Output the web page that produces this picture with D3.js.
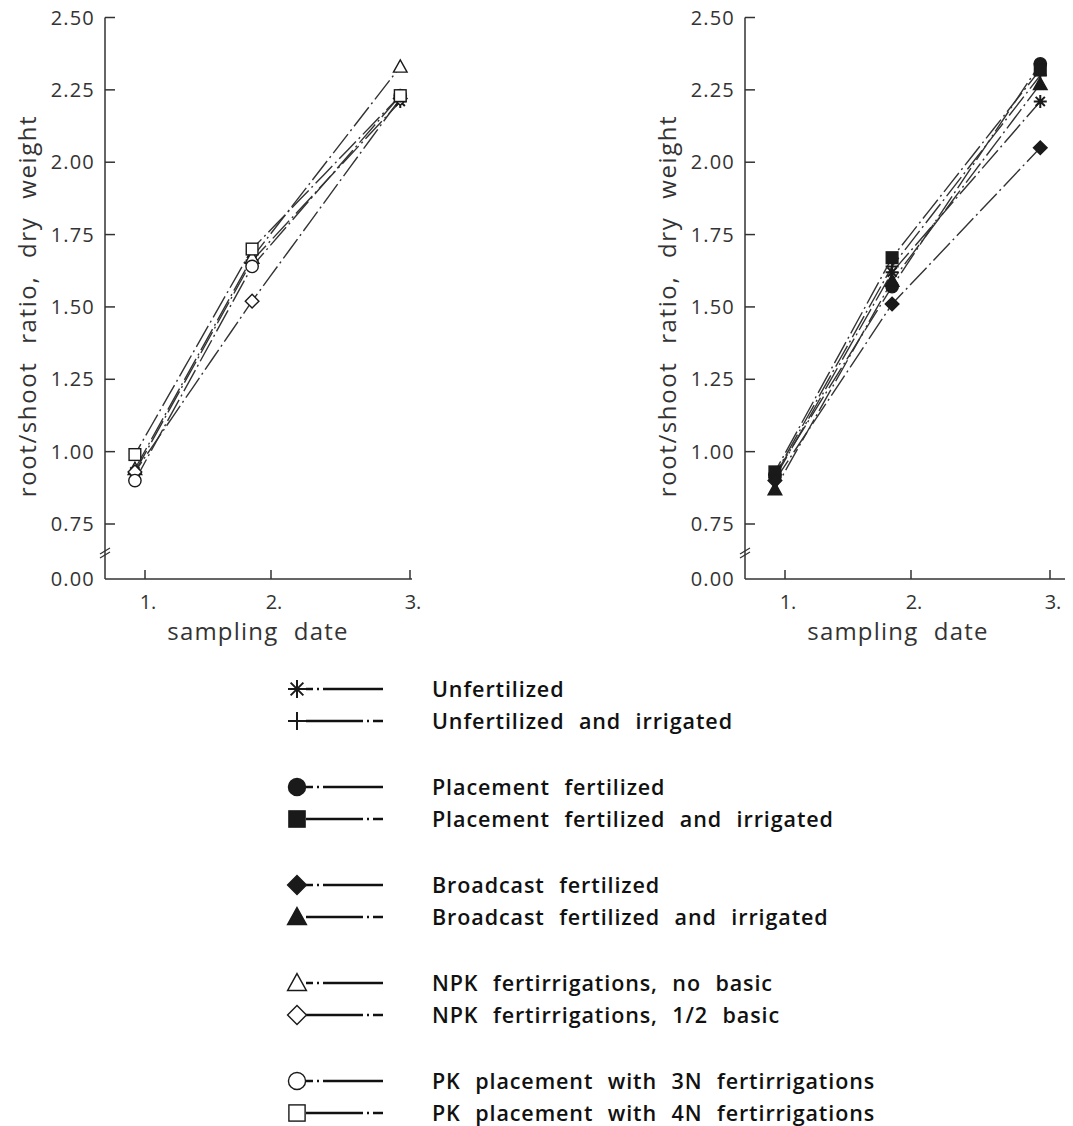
<!DOCTYPE html>
<html>
<head>
<meta charset="utf-8">
<script src="https://cdn.jsdelivr.net/npm/d3@7"></script>
<style>
  body { margin: 0; background: #fff; }
  text { font-family: "Open Sans", "Liberation Sans", sans-serif; }
</style>
</head>
<body>
<script>
// tick values and labels
var dateTicks = [1, 2, 3];
var dateLabels = ["1.", "2.", "3."];
var yTicks = [0, 0.75, 1, 1.25, 1.5, 1.75, 2, 2.25, 2.5];

// where the samplings fall on the date axis
var samplePos = [0.92, 1.85, 2.93];

// treatments (legend order), marker, and which dash style
var treatments = [
  "Unfertilized",
  "Unfertilized and irrigated",
  "Placement fertilized",
  "Placement fertilized and irrigated",
  "Broadcast fertilized",
  "Broadcast fertilized and irrigated",
  "NPK fertirrigations, no basic",
  "NPK fertirrigations, 1/2 basic",
  "PK placement with 3N fertirrigations",
  "PK placement with 4N fertirrigations"
];
var markers = ["star", "plus", "circleF", "squareF", "diamondF", "triangleF",
               "triangleO", "diamondO", "circleO", "squareO"];

// left panel: [treatment index, values at the 3 samplings]
var leftData = [
  [0, [0.93, 1.66, 2.21]],
  [6, [0.94, 1.67, 2.33]],
  [7, [0.93, 1.52, 2.22]],
  [8, [0.90, 1.64, 2.23]],
  [9, [0.99, 1.70, 2.23]]
];

// right panel
var rightData = [
  [0, [0.91, 1.62, 2.21]],
  [1, [0.92, 1.64, 2.30]],
  [2, [0.92, 1.57, 2.34]],
  [3, [0.93, 1.67, 2.32]],
  [4, [0.90, 1.51, 2.05]],
  [5, [0.87, 1.59, 2.27]]
];

var width = 1073, height = 1126;

var svg = d3.select("body").append("svg")
  .attr("width", width)
  .attr("height", height);

var ink = "#1a1a1a";

function marker(g, type, s) {
  // s = nominal half size
  var filled = /F$/.test(type);
  var fill = filled ? ink : "#fff";
  var base = type.replace(/[FO]$/, "");
  if (base == "circle") {
    g.append("circle").attr("r", s * 0.95).attr("fill", fill).attr("stroke", ink).attr("stroke-width", 1.4);
  } else if (base == "square") {
    g.append("rect").attr("x", -s * 0.9).attr("y", -s * 0.9).attr("width", s * 1.8).attr("height", s * 1.8)
      .attr("fill", fill).attr("stroke", ink).attr("stroke-width", 1.4);
  } else if (base == "diamond") {
    var d = s * 1.05;
    g.append("path").attr("d", `M0,${-d}L${d},0L0,${d}L${-d},0Z`)
      .attr("fill", fill).attr("stroke", ink).attr("stroke-width", 1.4);
  } else if (base == "triangle") {
    var t = s * 1.05;
    g.append("path").attr("d", `M0,${-t}L${t},${t * 0.8}L${-t},${t * 0.8}Z`)
      .attr("fill", fill).attr("stroke", ink).attr("stroke-width", 1.4);
  } else if (base == "plus") {
    g.append("path").attr("d", `M${-s},0H${s}M0,${-s}V${s}`)
      .attr("stroke", ink).attr("stroke-width", 2);
  } else if (base == "star") {
    var p = "";
    for (var i = 0; i < 4; i++) {
      var a = i * Math.PI / 4;
      p += `M${-s * Math.cos(a)},${-s * Math.sin(a)}L${s * Math.cos(a)},${s * Math.sin(a)}`;
    }
    g.append("path").attr("d", p).attr("stroke", ink).attr("stroke-width", 2);
  }
}

// dash patterns: first treatment of a pair vs second
var dashA = "24,4,2,4", dashB = "12,4,2,4,12,0";

function panel(x0, data) {
  var x = d3.scaleLinear().domain([1, 2, 3]).range([x0 + 145, x0 + 271, x0 + 410]);
  var y = d3.scaleLinear().domain([0, 0.75, 2.5]).range([579, 524, 17.5]);
  var axisX = x0 + 105;
  var xEnd = x0 == 0 ? x0 + 412 : x0 + 425;

  var g = svg.append("g");

  // y axis
  g.append("line").attr("x1", axisX).attr("x2", axisX).attr("y1", y(2.5)).attr("y2", y(0))
    .attr("stroke", "#333").attr("stroke-width", 1.5);
  g.append("g").selectAll("line").data(yTicks.filter(d => d > 0)).enter()
    .append("line")
    .attr("x1", axisX).attr("x2", axisX + 10)
    .attr("y1", d => y(d)).attr("y2", d => y(d))
    .attr("stroke", "#333").attr("stroke-width", 1.5);
  g.append("g").selectAll("text").data(yTicks).enter()
    .append("text")
    .attr("x", axisX - 10)
    .attr("y", d => y(d))
    .attr("dy", "0.36em")
    .attr("text-anchor", "end")
    .attr("font-size", 20)
    .attr("letter-spacing", 1.2)
    .attr("fill", "#333")
    .text(d => d3.format(".2f")(d));

  // axis break
  var by = 555;
  g.append("path")
    .attr("d", `M${axisX - 5},${by - 1}L${axisX + 5},${by - 7}M${axisX - 5},${by + 3}L${axisX + 5},${by - 3}`)
    .attr("stroke", "#333").attr("stroke-width", 1.3).attr("fill", "none");

  // x axis
  g.append("line").attr("x1", axisX).attr("x2", xEnd).attr("y1", y(0)).attr("y2", y(0))
    .attr("stroke", "#333").attr("stroke-width", 1.5);
  g.append("g").selectAll("line").data(dateTicks).enter()
    .append("line")
    .attr("x1", d => x(d)).attr("x2", d => x(d))
    .attr("y1", y(0)).attr("y2", y(0) - 9)
    .attr("stroke", "#333").attr("stroke-width", 1.5);
  g.append("g").selectAll("text").data(dateTicks).enter()
    .append("text")
    .attr("x", d => x(d) + 3)
    .attr("y", 609)
    .attr("text-anchor", "middle")
    .attr("font-size", 20)
    .attr("fill", "#333")
    .text((d, i) => dateLabels[i]);

  // axis titles
  g.append("text")
    .attr("x", x0 + 258).attr("y", 640)
    .attr("text-anchor", "middle")
    .attr("font-size", 24)
    .attr("letter-spacing", 1.2)
    .attr("word-spacing", 8)
    .attr("fill", "#333")
    .text("sampling date");
  g.append("text")
    .attr("transform", `translate(${x0 + 36},${306}) rotate(-90)`)
    .attr("text-anchor", "middle")
    .attr("font-size", 24)
    .attr("letter-spacing", 1.6)
    .attr("word-spacing", 10)
    .attr("fill", "#333")
    .text("root/shoot ratio, dry weight");

  // lines
  var line = d3.line().x((d, i) => x(samplePos[i])).y(d => y(d));
  g.append("g").selectAll("path").data(data).enter()
    .append("path")
    .attr("d", d => line(d[1]))
    .attr("fill", "none")
    .attr("stroke", "#333")
    .attr("stroke-width", 1.4)
    .attr("stroke-dasharray", d => d[0] % 2 == 0 ? dashA : dashB);

  // markers
  data.forEach(function(d) {
    d[1].forEach(function(v, i) {
      var m = g.append("g").attr("transform", `translate(${x(samplePos[i])},${y(v)})`);
      marker(m, markers[d[0]], 6.5);
    });
  });
}

panel(0, leftData);
panel(640, rightData);

// legend
var legendRowY = treatments.map((t, i) => 689 + Math.floor(i / 2) * 98 + (i % 2) * 32);
var lg = svg.append("g");
treatments.forEach(function(t, i) {
  var yy = legendRowY[i];
  lg.append("line")
    .attr("x1", 306).attr("x2", 383)
    .attr("y1", yy).attr("y2", yy)
    .attr("stroke", "#111").attr("stroke-width", 2.4)
    .attr("stroke-dasharray", i % 2 == 0 ? "7,4,2,4,60" : "57,4,2,4,10");
  var m = lg.append("g").attr("transform", `translate(297,${yy})`);
  marker(m, markers[i], 9);
  lg.append("text")
    .attr("x", 432).attr("y", yy)
    .attr("dy", "0.36em")
    .attr("font-size", 21.5)
    .attr("font-weight", 600)
    .attr("letter-spacing", 0.9)
    .attr("word-spacing", 8)
    .attr("fill", "#111")
    .text(t);
});
</script>
</body>
</html>
